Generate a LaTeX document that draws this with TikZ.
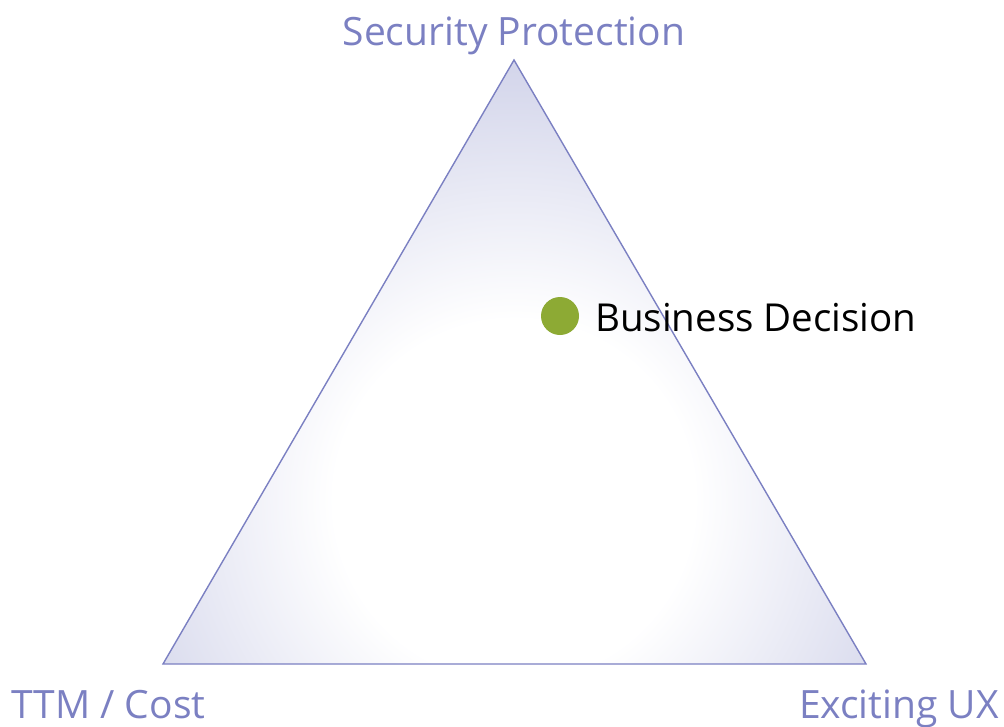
\documentclass[tikz,border=0pt]{standalone}
\usepackage{fontspec}
\setmainfont{Open Sans}
\definecolor{lav}{HTML}{7B80C2}
\definecolor{lavfill}{HTML}{D4D6EB}
\definecolor{olive}{HTML}{8DAA34}
\pgfdeclareradialshading{trishade}{\pgfpoint{0bp}{0bp}}{color(0bp)=(white); color(9bp)=(white); color(21.5bp)=(lavfill); color(50bp)=(lavfill)}
\tikzset{
  lbl/.style={inner sep=0pt, text=lav, font=\fontsize{39}{41}\selectfont},
  blk/.style={inner sep=0pt, text=black, font=\fontsize{38.5}{41}\selectfont},
}
\begin{document}
\begin{tikzpicture}[x=1pt,y=-1pt]
\useasboundingbox (0,0) rectangle (1004,726);
\coordinate (T) at (514,60);
\coordinate (L) at (163,664);
\coordinate (R) at (866,664);
\begin{scope}
  \clip (T) -- (L) -- (R) -- cycle;
  \shade[shading=trishade] (514,500) circle (500);
\end{scope}
\draw[lav, line width=1.4pt, line join=miter] (T) -- (L) -- (R) -- cycle;
\node[lbl, anchor=base] (sp) at (514,45) {Security Protection};
\node[lbl, anchor=base west] (ttm) at (11,718) {TTM / Cost};
\node[lbl, anchor=base east] (ux) at (999,718) {Exciting UX};
\fill[olive] (560,316) circle (19) coordinate (dot);
\node[blk, anchor=base west] (bd) at (595,331) {Business Decision};
\end{tikzpicture}
\end{document}
